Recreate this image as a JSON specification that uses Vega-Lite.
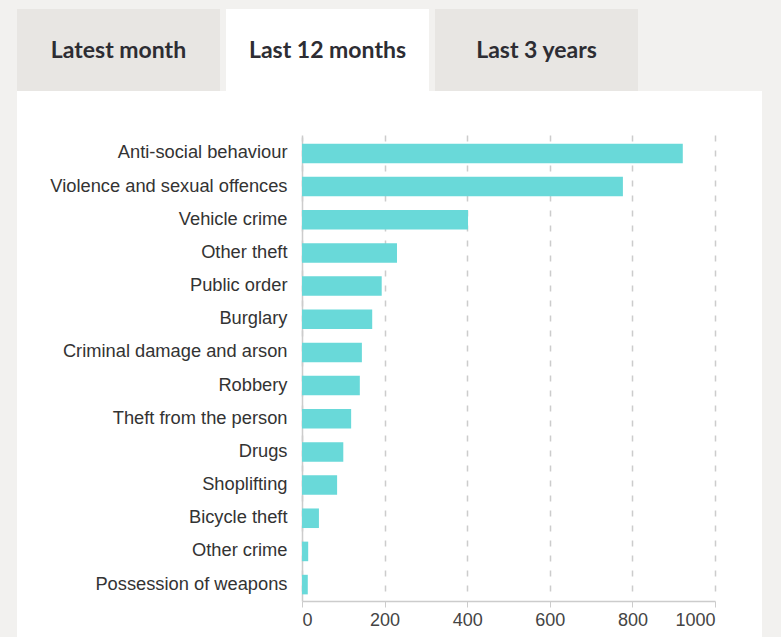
{
  "$schema": "https://vega.github.io/schema/vega-lite/v6.json",
  "background": "#f2f1ef",
  "padding": {"left": 17, "top": 9, "right": 19, "bottom": 0},
  "autosize": {"type": "pad"},
  "spacing": 0,
  "config": {"view": {"stroke": null}, "concat": {"spacing": 0}},
  "datasets": {
    "tabs": [
      {"tab": "Latest month"},
      {"tab": "Last 12 months"},
      {"tab": "Last 3 years"}
    ],
    "crimes": [
      {"category": "Anti-social behaviour", "count": 922},
      {"category": "Violence and sexual offences", "count": 777},
      {"category": "Vehicle crime", "count": 402},
      {"category": "Other theft", "count": 230},
      {"category": "Public order", "count": 193},
      {"category": "Burglary", "count": 170},
      {"category": "Criminal damage and arson", "count": 145},
      {"category": "Robbery", "count": 140},
      {"category": "Theft from the person", "count": 119},
      {"category": "Drugs", "count": 100},
      {"category": "Shoplifting", "count": 85},
      {"category": "Bicycle theft", "count": 41},
      {"category": "Other crime", "count": 15},
      {"category": "Possession of weapons", "count": 14}
    ]
  },
  "vconcat": [
    {
      "width": 745,
      "height": 82,
      "data": {"name": "tabs"},
      "encoding": {
        "x": {
          "field": "tab",
          "type": "nominal",
          "sort": null,
          "axis": null,
          "scale": {"range": [0, 621], "paddingInner": 0.0287, "paddingOuter": 0}
        }
      },
      "layer": [
        {
          "mark": {"type": "bar"},
          "encoding": {
            "color": {
              "condition": {"test": "datum.tab === 'Last 12 months'", "value": "#ffffff"},
              "value": "#e8e6e3"
            }
          }
        },
        {
          "mark": {"type": "text", "font": "Lato", "fontWeight": "bold", "fontSize": 23, "color": "#2d2d33", "baseline": "middle", "align": "center", "dy": 1},
          "encoding": {"text": {"field": "tab"}}
        }
      ]
    },
    {
      "width": 745,
      "height": 546,
      "view": {"fill": "#ffffff", "stroke": null},
      "data": {"name": "crimes"},
      "mark": {"type": "bar", "color": "#69d9d9"},
      "encoding": {
        "y": {
          "field": "category",
          "type": "nominal",
          "sort": null,
          "title": null,
          "scale": {"range": [46, 510], "paddingInner": 0.41, "paddingOuter": 0.2},
          "axis": {
            "offset": -285,
            "ticks": false,
            "tickSize": 0,
            "labelPadding": 15,
            "labelLimit": 400,
            "labelFont": "Arial, Liberation Sans, sans-serif",
            "labelFontSize": 18.3,
            "labelColor": "#333333",
            "domainColor": "#cccccc",
            "domainWidth": 1.5,
            "grid": false
          }
        },
        "x": {
          "field": "count",
          "type": "quantitative",
          "title": null,
          "scale": {"domain": [0, 1000], "range": [285, 698], "nice": false},
          "axis": {
            "offset": -36,
            "values": [0, 200, 400, 600, 800, 1000],
            "format": "d",
            "grid": true,
            "gridDash": [6, 9],
            "gridColor": "#cccccc",
            "gridWidth": 1.5,
            "domainColor": "#cccccc",
            "domainWidth": 1.5,
            "tickColor": "#cccccc",
            "tickSize": 6,
            "labelPadding": 4,
            "labelFont": "Arial, Liberation Sans, sans-serif",
            "labelFontSize": 18,
            "labelColor": "#444444"
          }
        }
      }
    }
  ]
}
